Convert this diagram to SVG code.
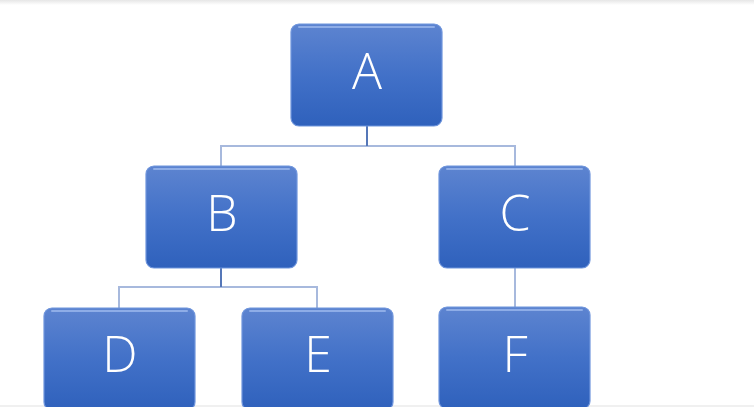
<svg xmlns="http://www.w3.org/2000/svg" width="754" height="407" viewBox="0 0 754 407">
<defs>
<linearGradient id="fill" x1="0" y1="0" x2="0" y2="1">
<stop offset="0" stop-color="#5d84d0"/>
<stop offset="0.5" stop-color="#4271c8"/>
<stop offset="1" stop-color="#2f61bc"/>
</linearGradient>
<linearGradient id="topband" x1="0" y1="0" x2="0" y2="1">
<stop offset="0" stop-color="#e6e6e6"/>
<stop offset="1" stop-color="#ffffff"/>
</linearGradient>
<style>
.box{fill:url(#fill);stroke:#6f95dc;stroke-width:1.2}
.hl{fill:none;stroke:#9bb8ec;stroke-width:2;stroke-linecap:round;opacity:0.8}
.lbl{font-family:"Open Sans","Liberation Sans",sans-serif;font-weight:300;font-size:50px;fill:#ffffff;text-anchor:middle}
.stem{stroke:#5577b8;stroke-width:2;fill:none}
.link{stroke:#a7b9dd;stroke-width:2;fill:none}
</style>
</defs>
<rect x="0" y="0" width="754" height="407" fill="#ffffff"/>
<rect x="0" y="0" width="754" height="5" fill="url(#topband)"/>
<rect x="0" y="405" width="754" height="2" fill="#f0f0f0"/>
<g id="connectors">
<path class="link" d="M221 166V146H515V166"/>
<path class="stem" d="M367 126V146"/>
<path class="link" d="M119 308V287H317V308"/>
<path class="stem" d="M221 268V287"/>
<path class="link" d="M515 268V307"/>
</g>
<g id="node-A">
<rect class="box" x="291" y="24" width="151" height="102" rx="8"/>
<path class="hl" d="M299 27H434"/>
<text class="lbl" x="367" y="89">A</text>
</g>
<g id="node-B">
<rect class="box" x="146" y="166" width="151" height="102" rx="8"/>
<path class="hl" d="M154 169H289"/>
<text class="lbl" x="222" y="231">B</text>
</g>
<g id="node-C">
<rect class="box" x="439" y="166" width="151" height="102" rx="8"/>
<path class="hl" d="M447 169H582"/>
<text class="lbl" x="515" y="231">C</text>
</g>
<g id="node-D">
<rect class="box" x="44" y="308" width="151" height="102" rx="8"/>
<path class="hl" d="M52 311H187"/>
<text class="lbl" x="120" y="372">D</text>
</g>
<g id="node-E">
<rect class="box" x="242" y="308" width="151" height="102" rx="8"/>
<path class="hl" d="M250 311H385"/>
<text class="lbl" x="318" y="372">E</text>
</g>
<g id="node-F">
<rect class="box" x="439" y="307" width="151" height="102" rx="8"/>
<path class="hl" d="M447 310H582"/>
<text class="lbl" x="515" y="372">F</text>
</g>
</svg>
